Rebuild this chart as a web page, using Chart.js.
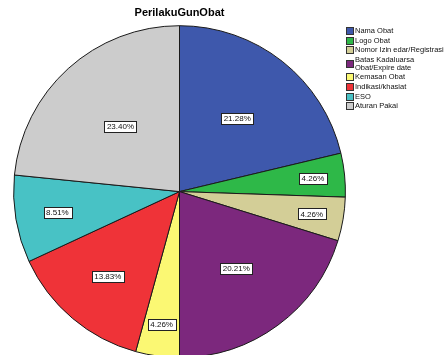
<!DOCTYPE html>
<html>
<head>
<meta charset="utf-8">
<script src="https://cdn.jsdelivr.net/npm/chart.js@4.4.1/dist/chart.umd.min.js"></script>
<style>
	html, body { margin: 0; padding: 0; background: #fff; overflow: hidden; }
	#wrap { width: 446px; height: 358px; }
</style>
</head>
<body>
<div id="wrap"><canvas id="perilaku-pie-chart" width="446" height="358"></canvas></div>
<script>
// PerilakuGunObat: responden counts per item (n = 94)
const categories = [
	'Nama Obat',
	'Logo Obat',
	'Nomor Izin edar/Registrasi',
	['Batas Kadaluarsa', 'Obat/Expire date'],
	'Kemasan Obat',
	'Indikasi/khasiat',
	'ESO',
	'Aturan Pakai',
];
const counts = [20, 4, 4, 19, 4, 13, 8, 22];
const colours = ['#3e58ac', '#2eb848', '#d3ce97', '#7c287d', '#fbf873', '#ef3338', '#48c2c5', '#cccccc'];

function percentOf(value, data) {
	let total = data.reduce((acc, v) => acc + v, 0);
	return (value / total * 100).toFixed(2) + '%';
}

// boxed percentage labels, pushed further out on the thin slices
const boxedLabels = {
	id: 'boxedLabels',
	afterDatasetsDraw(chart) {
		const ctx = chart.ctx;
		const data = chart.data.datasets[0].data;
		const total = data.reduce((acc, v) => acc + v, 0);
		ctx.save();
		ctx.font = '8px Arial, "Liberation Sans", sans-serif';
		ctx.textAlign = 'center';
		ctx.textBaseline = 'middle';
		chart.getDatasetMeta(0).data.forEach((arc, i) => {
			const share = data[i] / total;
			const frac = 0.87 - 1.45 * share;
			const mid = (arc.startAngle + arc.endAngle) / 2;
			const r = arc.outerRadius * frac;
			const x = arc.x + Math.cos(mid) * r;
			const y = arc.y + Math.sin(mid) * r;
			const text = percentOf(data[i], data);
			const w = ctx.measureText(text).width + 5;
			const h = 11;
			ctx.fillStyle = '#fff';
			ctx.fillRect(Math.round(x - w / 2) + 0.5, Math.round(y - h / 2) + 0.5, Math.round(w), h);
			ctx.strokeStyle = '#222';
			ctx.lineWidth = 1;
			ctx.strokeRect(Math.round(x - w / 2) + 0.5, Math.round(y - h / 2) + 0.5, Math.round(w), h);
			ctx.fillStyle = '#111';
			ctx.fillText(text, x, y + 0.5);
		});
		ctx.restore();
	},
};

// compact legend in the top right corner
const sideLegend = {
	id: 'sideLegend',
	afterDraw(chart) {
		const ctx = chart.ctx;
		const bg = chart.data.datasets[0].backgroundColor;
		let y = 31;
		ctx.save();
		ctx.font = '7.5px Arial, "Liberation Sans", sans-serif';
		ctx.textBaseline = 'middle';
		ctx.textAlign = 'left';
		chart.data.labels.forEach((label, i) => {
			const lines = Array.isArray(label) ? label : [label];
			const boxY = y + (lines.length - 1) * 4;
			ctx.fillStyle = bg[i];
			ctx.fillRect(346.5, Math.round(boxY - 4) + 0.5, 7, 7);
			ctx.strokeStyle = '#333';
			ctx.lineWidth = 1;
			ctx.strokeRect(346.5, Math.round(boxY - 4) + 0.5, 7, 7);
			ctx.fillStyle = '#111';
			lines.forEach((line, j) => {
				ctx.fillText(line, 355, y + j * 8);
			});
			y += 9.6 + (lines.length - 1) * 8;
		});
		ctx.restore();
	},
};

const perilaku_pie_chart_options = {
	responsive: false,
	animation: false,
	layout: {
		padding: { left: 13, right: 100, top: 0, bottom: 0 },
	},
	plugins: {
		legend: { display: false },
		tooltip: { enabled: false },
		title: {
			display: true,
			text: 'PerilakuGunObat',
			color: '#000',
			font: { family: 'Arial, "Liberation Sans", sans-serif', size: 11, weight: 'bold' },
			padding: { top: 6, bottom: 6 },
		},
	},
};

var perilaku_pie_chart_ctx = document.getElementById('perilaku-pie-chart').getContext('2d');
var perilaku_pie_chart = new Chart(perilaku_pie_chart_ctx, {
	type: 'pie',
	data: {
		labels: categories,
		datasets: [{
			data: counts,
			backgroundColor: colours,
			borderColor: '#1a1a1a',
			borderWidth: 1,
		}],
	},
	options: perilaku_pie_chart_options,
	plugins: [boxedLabels, sideLegend],
});
</script>
</body>
</html>
